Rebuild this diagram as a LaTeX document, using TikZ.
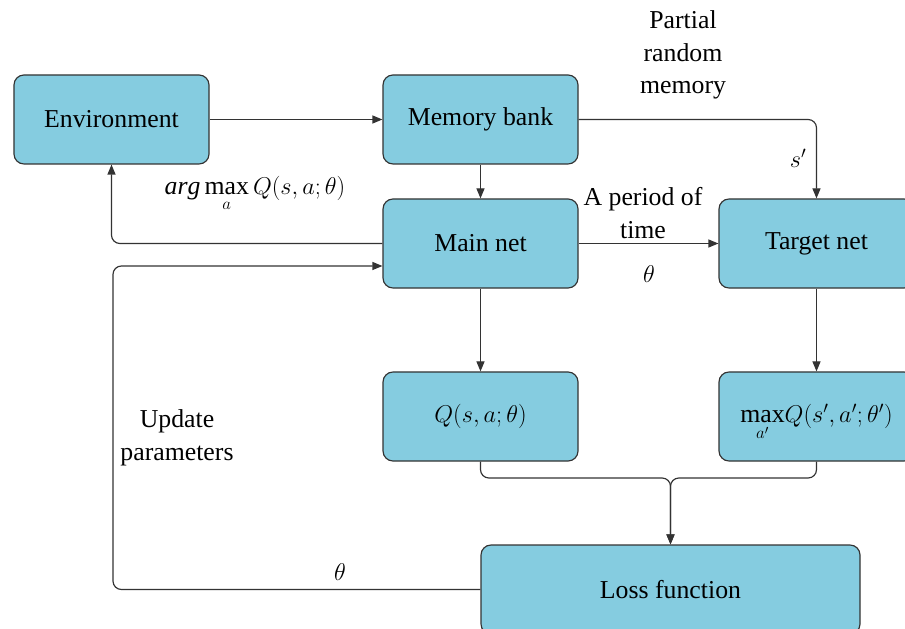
\documentclass[tikz,border=0pt]{standalone}
\usepackage{amsmath}
\usepackage{fontspec}
\setmainfont{Liberation Serif}
\usetikzlibrary{arrows.meta}
\definecolor{boxblue}{RGB}{133,204,224}
\definecolor{linegray}{RGB}{51,51,51}
\tikzset{
  block/.style={draw=linegray, fill=boxblue, rounded corners=0.3cm,
    minimum width=5.85cm, minimum height=2.67cm, line width=1pt},
  flow/.style={draw=linegray, line width=1pt, rounded corners=0.25cm,
    -{Triangle[length=0.3cm,width=0.24cm]}},
  lbl/.style={align=center}
}
\begin{document}
\begin{tikzpicture}[x=0.03cm, y=-0.03cm, font=\fontsize{22}{28}\selectfont]
  \clip (0,0) rectangle (905,629);
  % blocks
  \node[block] (env) at (111.5,119.5) {Environment};
  \node[block] (mem) at (480.5,119.5) {Memory bank};
  \node[block] (main) at (480.5,243.5) {Main net};
  \node[block] (target) at (816.5,243.5) {Target net};
  \node[block] (q) at (480.5,416.5) {$Q(s,a;\theta)$};
  \node[block] (maxq) at (816.5,416.5) {$\smash[b]{\displaystyle\max_{a'}}Q(s',a';\theta')$};
  \node[block, minimum width=11.37cm] (loss) at (670.5,589.5) {Loss function};
  \coordinate (merge) at (670.5,478);
  \coordinate (upd) at (113,266);
  % connectors
  \draw[flow] (env.east) -- (mem.west);
  \draw[flow] (mem.east) -| (target.north);
  \draw[flow] (mem.south) -- (main.north);
  \draw[flow] (main.west) -| (env.south);
  \draw[flow] (main.east) -- (target.west);
  \draw[flow] (main.south) -- (q.north);
  \draw[flow] (target.south) -- (maxq.north);
  \draw[flow] (q.south) |- (merge) -- (loss.north);
  \draw[flow] (maxq.south) |- (merge) -- (loss.north);
  \draw[flow] (loss.west) -| (upd) -- (main.west |- upd);
  % labels
  \node[lbl] (partial) at (683,55) {Partial\\random\\memory};
  \node (sprime) at (798,158) {$s'$};
  \node[lbl] (period) at (643,213) {A period of\\time};
  \node (thetaa) at (649,274) {$\theta$};
  \node[anchor=base] (argmax) at (255,195) {$\displaystyle\mathit{arg}\max_{a}Q(s,a;\theta)$};
  \node[lbl] (update) at (177,438) {Update\\parameters};
  \node (thetab) at (340,572) {$\theta$};
\end{tikzpicture}
\end{document}
